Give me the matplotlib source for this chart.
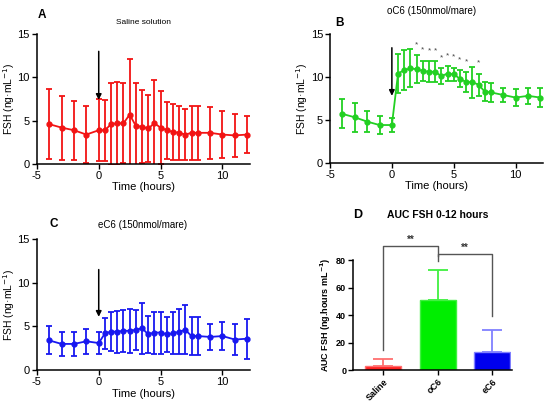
import matplotlib
matplotlib.use('Agg')
from matplotlib import pyplot as plt

plt.rcParams['font.family'] = ['Liberation Sans', 'DejaVu Sans']
plt.rcParams['axes.unicode_minus'] = False

# Sampling times (hours)
times = [-4, -3, -2, -1, 0, 0.5, 1, 1.5, 2, 2.5, 3, 3.5, 4, 4.5, 5,
         5.5, 6, 6.5, 7, 7.5, 8, 9, 10, 11, 12]

# Panel A: saline solution (mean and SD)
saline_mean = [4.6, 4.2, 3.9, 3.4, 3.9, 3.9, 4.6, 4.7, 4.7, 5.7, 4.4, 4.3, 4.1,
               4.7, 4.2, 3.9, 3.7, 3.6, 3.4, 3.6, 3.6, 3.6, 3.4, 3.3, 3.4]
saline_sd = [4.0, 3.7, 3.4, 3.3, 3.6, 3.5, 4.7, 4.8, 4.6, 6.4, 4.9, 4.2, 3.9,
             5.0, 4.2, 3.3, 3.2, 3.1, 2.9, 3.1, 3.1, 3.0, 2.7, 2.5, 2.1]

# Panel B: oC6 (150nmol/mare)
oc6_mean = [5.7, 5.3, 4.8, 4.4, 4.4, 10.4, 10.8, 11.0, 10.9, 10.7, 10.6, 10.6, 10.1,
            10.4, 10.3, 9.8, 9.4, 9.4, 9.1, 8.3, 8.2, 7.9, 7.6, 7.8, 7.6]
oc6_sd = [1.7, 1.7, 1.2, 1.1, 0.8, 2.3, 2.3, 2.2, 1.6, 1.2, 1.2, 1.2, 0.9,
          0.9, 0.8, 1.0, 1.2, 1.8, 1.3, 1.1, 1.1, 0.8, 1.0, 0.9, 1.1]
oc6_signif = [2, 2.5, 3, 3.5, 4, 4.5, 5, 5.5, 6, 7]

# Panel C: eC6 (150nmol/mare)
ec6_mean = [3.4, 3.0, 3.0, 3.3, 3.1, 4.2, 4.4, 4.4, 4.5, 4.5, 4.6, 4.8, 4.1,
            4.3, 4.3, 4.1, 4.2, 4.4, 4.6, 3.9, 3.9, 3.8, 3.9, 3.5, 3.6]
ec6_sd = [1.6, 1.4, 1.4, 1.4, 1.3, 1.8, 2.2, 2.4, 2.4, 2.5, 2.3, 2.9, 2.1,
          2.4, 2.4, 2.0, 2.4, 2.6, 2.8, 2.2, 2.2, 1.5, 1.6, 1.8, 2.3]

# Panel D: AUC 0-12 hours
groups = ['Saline', 'oC6', 'eC6']
auc_mean = [3, 51, 13]
auc_err = [5, 22, 16]

fig = plt.figure(figsize=(5.5, 4.05), dpi=100)


def style_axes(ax, size=8):
    for side in ['top', 'right']:
        ax.spines[side].set_visible(False)
    for side in ['left', 'bottom']:
        ax.spines[side].set_linewidth(1.1)
    ax.tick_params(direction='out', length=3.5, width=1.0, labelsize=size, pad=1.5)


def time_panel(rect, mean, sd, color, title, tsize, letter, title_xy, letter_xy, arrow):
    ax = fig.add_axes(rect)
    ax.errorbar(times, mean, yerr=sd, color=color, marker='o', markersize=3.5,
                linewidth=1.3, elinewidth=1.3, capsize=2.0, capthick=1.3)
    ax.set_xlim(-5, 12.2)
    ax.set_ylim(0, 15)
    ax.set_xticks([-5, 0, 5, 10])
    ax.set_yticks([0, 5, 10, 15])
    ax.set_xlabel('Time (hours)', fontsize=8, labelpad=1)
    ax.set_ylabel('FSH (ng·mL$^{-1}$)', fontsize=7.5)
    ax.yaxis.set_label_coords(-0.092, 0.5)
    style_axes(ax)
    ax.annotate('', xy=(0, arrow[1]), xytext=(0, arrow[0]),
                arrowprops=dict(arrowstyle='-|>', color='black', lw=1.1,
                                mutation_scale=8, shrinkA=0, shrinkB=0))
    fig.text(title_xy[0], title_xy[1], title, fontsize=tsize, ha='center', va='center')
    fig.text(letter_xy[0], letter_xy[1], letter, fontsize=8.5, fontweight='bold',
             ha='center', va='center')
    return ax


time_panel([0.067, 0.595, 0.387, 0.321], saline_mean, saline_sd, '#f21414',
           'Saline solution', 6, 'A', (0.26, 0.944), (0.077, 0.963), (13.0, 7.4))
axb = time_panel([0.6, 0.598, 0.387, 0.318], oc6_mean, oc6_sd, '#22d022',
                 'oC6 (150nmol/mare)', 7, 'B', (0.785, 0.972), (0.618, 0.944), (13.4, 7.8))
for t in oc6_signif:
    i = times.index(t)
    axb.text(t, oc6_mean[i] + oc6_sd[i] + 1.2, '*', fontsize=6, color='#444444',
             ha='center', va='center')
time_panel([0.067, 0.086, 0.387, 0.324], ec6_mean, ec6_sd, '#1818f0',
           'eC6 (150nmol/mare)', 7, 'C', (0.26, 0.444), (0.097, 0.447), (11.5, 6.1))

# Panel D: bar chart
axd = fig.add_axes([0.642, 0.086, 0.288, 0.272])
bar_colors = ['#ff2020', '#00ee00', '#0000ee']
err_colors = ['#ff7070', '#40f040', '#8080ff']
xs = list(range(len(groups)))
axd.bar(xs, auc_mean, width=0.66, color=bar_colors, edgecolor=err_colors, linewidth=1)
for x, m, e, c in zip(xs, auc_mean, auc_err, err_colors):
    axd.errorbar(x, m, yerr=[[0], [e]], color=c, elinewidth=1.3, capsize=7, capthick=1.3)
axd.set_xlim(-0.55, 2.35)
axd.set_ylim(0, 80)
axd.set_yticks([0, 20, 40, 60, 80])
axd.set_xticks(xs)
axd.set_xticklabels(groups, rotation=45, ha='right', rotation_mode='anchor',
                    fontsize=6.5, fontweight='bold')
style_axes(axd, 6.5)
for lab in axd.get_yticklabels():
    lab.set_fontweight('bold')
axd.set_ylabel('AUC FSH (ng.hours mL$^{\\mathbf{-1}}$)', fontsize=6.5,
               fontweight='bold', labelpad=2)

# significance brackets
bk = '#555555'
axd.plot([0, 0, 1, 1], [15, 90, 90, 83], color=bk, lw=1.0, clip_on=False)
axd.text(0.5, 95, '**', fontsize=7, fontweight='bold', ha='center', va='center',
         color='#333333')
axd.plot([1, 1, 2, 2], [79, 84.5, 84.5, 39], color=bk, lw=1.0, clip_on=False)
axd.text(1.5, 89, '**', fontsize=7, fontweight='bold', ha='center', va='center',
         color='#333333')

fig.text(0.65, 0.468, 'D', fontsize=9, fontweight='bold', ha='center', va='center')
fig.text(0.796, 0.468, 'AUC FSH 0-12 hours', fontsize=7.5, fontweight='bold',
         ha='center', va='center')

fig.savefig('out.png', dpi=100)
